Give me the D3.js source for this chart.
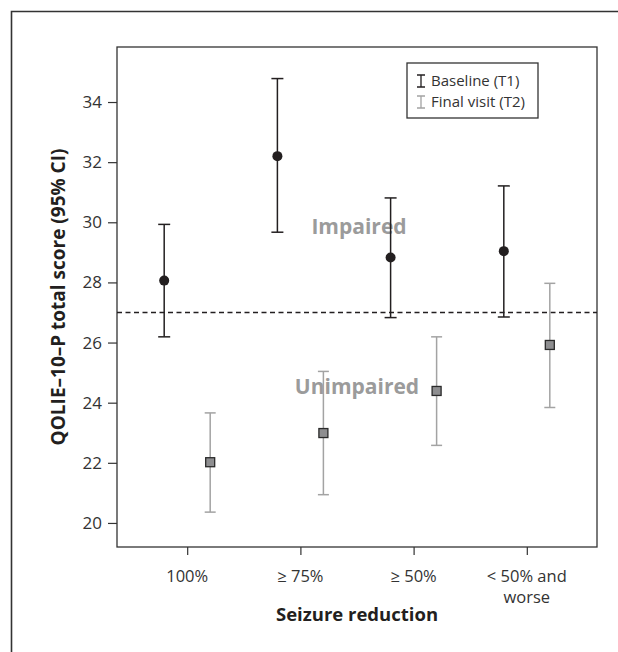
<html>
<head>
	<title>QOLIE-10-P by seizure reduction</title>
	<script src="https://d3js.org/d3.v7.min.js"></script>
</head>
<body>
	<style> *{
		margin: 0px;
		padding: 0px;
	}
	body { background: #fff; }
	text { font-family: "Open Sans", "Noto Sans", sans-serif; }
	</style>

	<svg id="SVGcanvas" xmlns="http://www.w3.org/2000/svg" width="618" height="652">
	</svg>

	<script>
	// data
	var categories = ["100%", "\u2265 75%", "\u2265 50%", "< 50% and worse"];
	var baselineMean = [28.06, 32.2, 28.83, 29.04];
	var baselineLow = [26.19, 29.67, 26.83, 26.85];
	var baselineHigh = [29.93, 34.78, 30.81, 31.21];
	var finalMean = [22.02, 22.99, 24.39, 25.92];
	var finalLow = [20.36, 20.94, 22.58, 23.84];
	var finalHigh = [23.66, 25.04, 26.19, 27.97];
	var yTicks = [20, 22, 24, 26, 28, 30, 32, 34];
	var cutoff = 27;

	var plotLeft = 117, plotRight = 597, plotTop = 47, plotBottom = 547;
	var black = "#231f20", grey = "#a3a3a3";

	var svg = d3.select( "#SVGcanvas" );

	// outer frame (only left and top visible)
	svg.append( "path" )
		.attr( "d", "M11.5,652 V11.5 H618" )
		.attr( "fill", "none" )
		.attr( "stroke", "#333" )
		.attr( "stroke-width", 1.6 );

	var x = d3.scalePoint()
		.domain( categories )
		.range( [plotLeft, plotRight] )
		.padding( 0.62 );

	var y = d3.scaleLinear()
		.domain( [19.2, 35.83] )
		.range( [plotBottom, plotTop] );

	// plot frame
	svg.append( "rect" )
		.attr( "x", plotLeft )
		.attr( "y", plotTop )
		.attr( "width", plotRight - plotLeft )
		.attr( "height", plotBottom - plotTop )
		.attr( "fill", "none" )
		.attr( "stroke", "#333" )
		.attr( "stroke-width", 1.3 );

	// y axis
	var yAxis = svg.append( "g" )
		.attr( "transform", "translate(" + plotLeft + ",0)" )
		.call( d3.axisLeft( y ).tickValues( yTicks ).tickSize( 9 ).tickPadding( 6 ) );
	yAxis.select( ".domain" ).remove();
	yAxis.selectAll( "line" ).attr( "stroke", "#333" ).attr( "stroke-width", 1.2 );
	yAxis.selectAll( "text" )
		.attr( "fill", "#333" )
		.style( "font-size", "17px" )
		.style( "font-family", "'Open Sans', sans-serif" );

	// x axis
	var xAxis = svg.append( "g" )
		.attr( "transform", "translate(0," + plotBottom + ")" )
		.call( d3.axisBottom( x ).tickSize( 8 ).tickPadding( 10 ) );
	xAxis.select( ".domain" ).remove();
	xAxis.selectAll( "line" ).attr( "stroke", "#333" ).attr( "stroke-width", 1.2 );
	xAxis.selectAll( "text" ).remove();

	// x tick labels, the last one wraps
	categories.forEach( function ( c ) {
		var lines = c == "< 50% and worse" ? ["< 50% and", "worse"] : [c];
		lines.forEach( function ( l, i ) {
			svg.append( "text" )
				.attr( "x", x( c ) )
				.attr( "y", 582 + i * 21 )
				.attr( "text-anchor", "middle" )
				.attr( "fill", "#333" )
				.style( "font-size", "16.5px" )
				.text( l );
		});
	});

	// axis titles
	svg.append( "text" )
		.attr( "x", ( plotLeft + plotRight ) / 2 )
		.attr( "y", 621 )
		.attr( "text-anchor", "middle" )
		.attr( "fill", black )
		.style( "font-size", "18.5px" )
		.style( "font-weight", "bold" )
		.text( "Seizure reduction" );

	svg.append( "text" )
		.attr( "transform", "translate(65," + ( plotTop + plotBottom ) / 2 + ") rotate(-90)" )
		.attr( "text-anchor", "middle" )
		.attr( "fill", black )
		.style( "font-size", "19px" )
		.style( "font-weight", "bold" )
		.text( "QOLIE\u201310\u2013P total score (95% CI)" );

	// cutoff line
	svg.append( "line" )
		.attr( "x1", plotLeft )
		.attr( "x2", plotRight )
		.attr( "y1", y( cutoff ) )
		.attr( "y2", y( cutoff ) )
		.attr( "stroke", black )
		.attr( "stroke-width", 1.3 )
		.attr( "stroke-dasharray", "5,3.5" );

	// region labels
	svg.append( "text" )
		.attr( "x", 359 )
		.attr( "y", 234 )
		.attr( "text-anchor", "middle" )
		.attr( "fill", "#9b9b9b" )
		.style( "font-size", "21px" )
		.style( "font-weight", "bold" )
		.text( "Impaired" );

	svg.append( "text" )
		.attr( "x", 357 )
		.attr( "y", 394 )
		.attr( "text-anchor", "middle" )
		.attr( "fill", "#9b9b9b" )
		.style( "font-size", "21px" )
		.style( "font-weight", "bold" )
		.text( "Unimpaired" );

	// draw one series of error bars
	function drawErrorBars( means, lows, highs, offset, color, capHalf ) {
		var g = svg.append( "g" );
		categories.forEach( function ( c, i ) {
			var cx = x( c ) + offset;
			g.append( "line" )
				.attr( "x1", cx ).attr( "x2", cx )
				.attr( "y1", y( lows[i] ) ).attr( "y2", y( highs[i] ) )
				.attr( "stroke", color ).attr( "stroke-width", 1.5 );
			[lows[i], highs[i]].forEach( function ( v ) {
				g.append( "line" )
					.attr( "x1", cx - capHalf ).attr( "x2", cx + capHalf )
					.attr( "y1", y( v ) ).attr( "y2", y( v ) )
					.attr( "stroke", color ).attr( "stroke-width", 1.5 );
			});
		});
		return g;
	}

	drawErrorBars( finalMean, finalLow, finalHigh, 23, grey, 5.5 );
	drawErrorBars( baselineMean, baselineLow, baselineHigh, -23, black, 6 );

	// markers
	svg.selectAll( ".baseDot" )
		.data( baselineMean )
		.enter()
		.append( "circle" )
		.attr( "cx", function ( d, i ) { return x( categories[i] ) - 23; } )
		.attr( "cy", function ( d ) { return y( d ); } )
		.attr( "r", 5 )
		.attr( "fill", black );

	svg.selectAll( ".finalSq" )
		.data( finalMean )
		.enter()
		.append( "rect" )
		.attr( "x", function ( d, i ) { return x( categories[i] ) + 23 - 4.5; } )
		.attr( "y", function ( d ) { return y( d ) - 4.5; } )
		.attr( "width", 9 )
		.attr( "height", 9 )
		.attr( "fill", "#8e8e90" )
		.attr( "stroke", "#2a2a2a" )
		.attr( "stroke-width", 1.3 );

	// legend
	var legend = svg.append( "g" );
	legend.append( "rect" )
		.attr( "x", 407 ).attr( "y", 63 )
		.attr( "width", 131 ).attr( "height", 55 )
		.attr( "fill", "#fff" )
		.attr( "stroke", "#333" )
		.attr( "stroke-width", 1.3 );

	var legendItems = [ { label: "Baseline (T1)", color: black }, { label: "Final visit (T2)", color: grey } ];
	legendItems.forEach( function ( item, i ) {
		var cy = 81 + i * 21;
		var ix = 421;
		legend.append( "path" )
			.attr( "d", "M" + ( ix - 4 ) + "," + ( cy - 6 ) + "H" + ( ix + 4 ) + "M" + ix + "," + ( cy - 6 ) + "V" + ( cy + 6 ) + "M" + ( ix - 4 ) + "," + ( cy + 6 ) + "H" + ( ix + 4 ) )
			.attr( "fill", "none" )
			.attr( "stroke", item.color )
			.attr( "stroke-width", 1.3 );
		legend.append( "text" )
			.attr( "x", 431 )
			.attr( "y", cy + 5 )
			.attr( "fill", "#333" )
			.style( "font-size", "15px" )
			.text( item.label );
	});
	</script>

</body>
</html>
